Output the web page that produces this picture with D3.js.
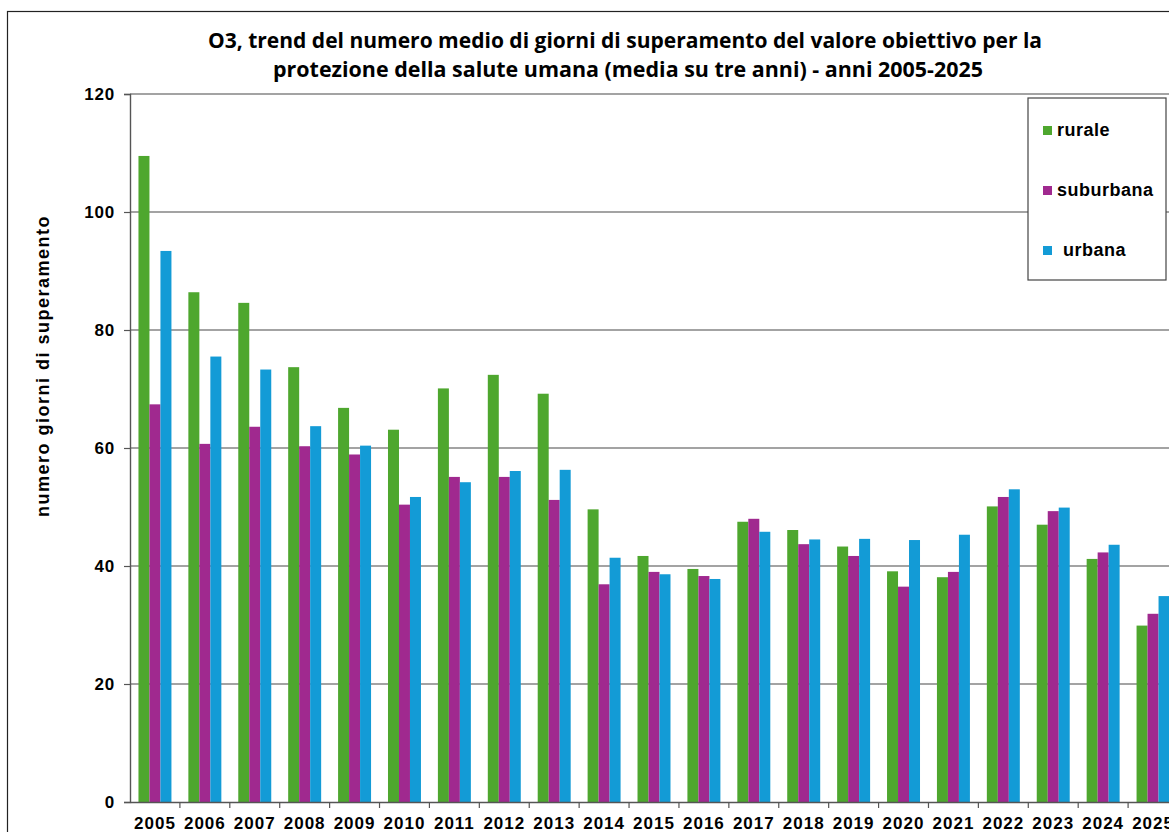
<!DOCTYPE html>
<html>
<head>
<meta charset="utf-8">
<script src="https://cdnjs.cloudflare.com/ajax/libs/d3/7.8.5/d3.min.js"></script>
<style>
  body { margin: 0; background: #fff; overflow: hidden; }
  text { fill: #000; }
</style>
</head>
<body>
<div id="chart"></div>
<script>
var years = ["2005","2006","2007","2008","2009","2010","2011","2012","2013","2014","2015",
             "2016","2017","2018","2019","2020","2021","2022","2023","2024","2025"];
var series = ["rurale", "suburbana", "urbana"];
var rurale    = [109.5, 86.4, 84.6, 73.7, 66.8, 63.1, 70.1, 72.4, 69.2, 49.6, 41.7,
                 39.5, 47.5, 46.1, 43.3, 39.1, 38.1, 50.1, 47.0, 41.2, 29.9];
var suburbana = [67.4, 60.7, 63.6, 60.3, 58.9, 50.4, 55.1, 55.1, 51.2, 36.9, 39.0,
                 38.3, 48.0, 43.7, 41.7, 36.5, 39.0, 51.7, 49.3, 42.3, 31.9];
var urbana    = [93.4, 75.5, 73.3, 63.7, 60.4, 51.7, 54.2, 56.1, 56.3, 41.4, 38.6,
                 37.8, 45.8, 44.5, 44.6, 44.4, 45.3, 53.0, 49.9, 43.6, 34.9];
var yTicks = [0, 20, 40, 60, 80, 100, 120];
var colors = ["#4ea72e", "#a0298f", "#139bd6"];

var arial = "Arial, 'Liberation Sans', sans-serif";

var fullwidth = 1169;
var fullheight = 832;
var margin = {top: 94, right: -9, bottom: 30, left: 130};
var width = fullwidth - margin.left - margin.right;
var height = fullheight - margin.top - margin.bottom;

var vis = d3.select("#chart").append("svg")
    .attr("width", fullwidth)
    .attr("height", fullheight);

// outer chart border
vis.append("rect")
    .attr("x", 7.5).attr("y", 11.5)
    .attr("width", 1190).attr("height", 850)
    .attr("fill", "#fff")
    .attr("stroke", "#222")
    .attr("stroke-width", 1.2);

var svg = vis.append("g")
    .attr("transform", "translate(" + margin.left + "," + margin.top + ")");

var data = years.map(function(y, i) {
    return {year: y, rurale: rurale[i], suburbana: suburbana[i], urbana: urbana[i]};
});

var xScale = d3.scaleBand()
    .domain(years)
    .range([0, width])
    .padding(0);

var xSub = d3.scaleBand()
    .domain(series)
    .range([0, xScale.bandwidth()])
    .paddingInner(0)
    .paddingOuter(0.77);

var yScale = d3.scaleLinear()
    .domain([0, 120])
    .range([height, 0]);

var color = d3.scaleOrdinal().domain(series).range(colors);

// gridlines
svg.selectAll("line.grid")
    .data(yTicks.slice(1))
    .enter()
    .append("line")
    .attr("class", "grid")
    .attr("x1", 0)
    .attr("x2", width)
    .attr("y1", function(d) { return yScale(d); })
    .attr("y2", function(d) { return yScale(d); })
    .attr("stroke", "#858585")
    .attr("stroke-width", 1.4);

// bars
var groups = svg.selectAll("g.year")
    .data(data)
    .enter()
    .append("g")
    .attr("class", "year")
    .attr("transform", function(d) { return "translate(" + xScale(d.year) + ",0)"; });

groups.selectAll("rect")
    .data(function(d) { return series.map(function(k) { return {key: k, value: d[k]}; }); })
    .enter()
    .append("rect")
    .attr("x", function(d) { return xSub(d.key); })
    .attr("width", xSub.bandwidth())
    .attr("y", function(d) { return yScale(d.value); })
    .attr("height", function(d) { return height - yScale(d.value); })
    .attr("fill", function(d) { return color(d.key); });

// y axis
var yAxis = d3.axisLeft(yScale)
    .tickValues(yTicks)
    .tickSize(6)
    .tickPadding(9);

var gy = svg.append("g").call(yAxis);
gy.select(".domain").attr("stroke", "#555").attr("stroke-width", 1.4);
gy.selectAll(".tick line").attr("stroke", "#555").attr("stroke-width", 1.2);
gy.selectAll(".tick text")
    .style("font-family", arial)
    .style("font-size", "17px")
    .style("font-weight", "bold")
    .style("letter-spacing", "0.8px")
    .attr("fill", "#000");

// x axis: ticks between the year groups
var xAxis = d3.axisBottom(xScale).tickSize(0).tickPadding(15);
var gx = svg.append("g")
    .attr("transform", "translate(0," + height + ")")
    .call(xAxis);
gx.select(".domain").attr("stroke", "#555").attr("stroke-width", 1.4);
gx.selectAll(".tick text")
    .style("font-family", arial)
    .style("font-size", "17px")
    .style("font-weight", "bold")
    .style("letter-spacing", "1px")
    .attr("fill", "#000");

gx.selectAll("line.sep")
    .data(years.slice(1))
    .enter()
    .append("line")
    .attr("class", "sep")
    .attr("x1", function(d) { return xScale(d); })
    .attr("x2", function(d) { return xScale(d); })
    .attr("y1", 0)
    .attr("y2", 6)
    .attr("stroke", "#555")
    .attr("stroke-width", 1.2);

// y axis title
vis.append("text")
    .attr("transform", "translate(49,366) rotate(-90)")
    .attr("text-anchor", "middle")
    .style("font-family", arial)
    .style("font-size", "18px")
    .style("font-weight", "bold")
    .style("letter-spacing", "1.5px")
    .text("numero giorni di superamento");

// title
var title = vis.append("text")
    .attr("text-anchor", "middle")
    .style("font-family", "'Open Sans', sans-serif")
    .style("font-weight", "700")
    .style("font-size", "22px");
title.append("tspan")
    .attr("x", 625).attr("y", 48)
    .attr("textLength", 834)
    .attr("lengthAdjust", "spacingAndGlyphs")
    .text("O3, trend del numero medio di giorni di superamento del valore obiettivo per la");
title.append("tspan")
    .attr("x", 628).attr("y", 77)
    .attr("textLength", 710)
    .attr("lengthAdjust", "spacingAndGlyphs")
    .text("protezione della salute umana (media su tre anni) - anni 2005-2025");

// legend
var legend = vis.append("g").attr("transform", "translate(1028,98)");
legend.append("rect")
    .attr("width", 138).attr("height", 182)
    .attr("fill", "#fff")
    .attr("stroke", "#444")
    .attr("stroke-width", 1.2);

var items = legend.selectAll("g.item")
    .data(series)
    .enter()
    .append("g")
    .attr("class", "item")
    .attr("transform", function(d, i) { return "translate(0," + (i * 60) + ")"; });

items.append("rect")
    .attr("x", 15).attr("y", 28)
    .attr("width", 9).attr("height", 9)
    .attr("fill", function(d) { return color(d); });

items.append("text")
    .attr("x", function(d) { return d == "urbana" ? 35 : 29; })
    .attr("y", 38)
    .style("font-family", arial)
    .style("font-size", "18px")
    .style("font-weight", "bold")
    .style("letter-spacing", "0.5px")
    .text(function(d) { return d; });
</script>
</body>
</html>
